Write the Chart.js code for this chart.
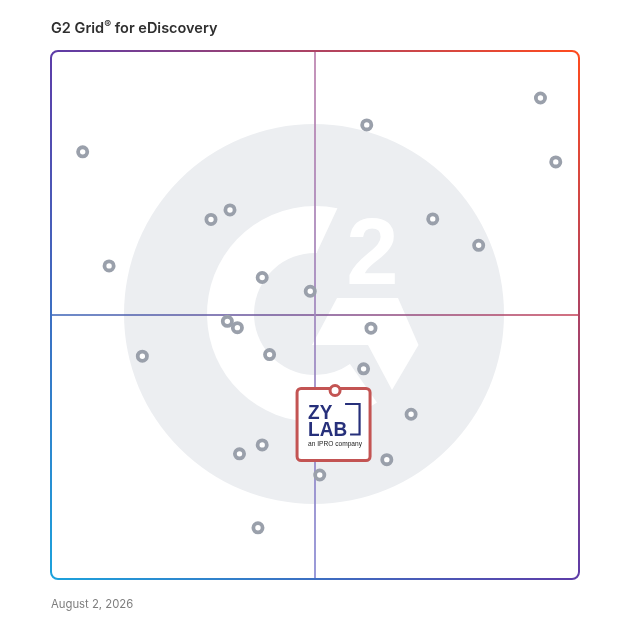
<!DOCTYPE html>
<html><head><meta charset="utf-8">
<script src="https://cdn.jsdelivr.net/npm/chart.js@4.4.1/dist/chart.umd.min.js"></script>
<style>
html,body{margin:0;padding:0;background:#fff;}
#wrap{position:relative;width:628px;height:628px;overflow:hidden;}
canvas{position:absolute;left:0;top:0;}
#title{position:absolute;left:51px;top:19px;font:600 14.5px Inter,"Noto Sans",sans-serif;color:#2f2f2f;white-space:nowrap;}
#title sup{font-size:0.72em;vertical-align:0.45em;line-height:0;}
#date{position:absolute;left:51px;top:597px;font:400 11.3px Inter,"Noto Sans",sans-serif;color:#7e7e7e;white-space:nowrap;}
</style></head><body>
<div id="wrap">
<canvas id="c" width="628" height="628"></canvas>
<div id="title">G2 Grid<sup>®</sup> for eDiscovery</div>
<div id="date">August 2, 2026</div>
</div>
<script>
const satisfaction   = [6.0, 11.0, 17.3, 30.3, 33.9, 40.0, 49.1, 33.4, 35.3, 41.4, 59.8, 92.7, 95.6, 72.3, 81.0, 60.6, 59.2, 68.2, 63.6, 50.9, 40.0, 35.7, 39.2];
const marketPresence = [80.9, 59.3, 42.2, 68.1, 69.9, 57.1, 54.5, 48.8, 47.6, 42.5, 86.0, 91.1, 79.0, 68.2, 63.2, 47.5, 39.8, 31.2, 22.6, 19.7, 25.4, 23.7, 9.7];
const highlightName = ['ZyLAB'];
const highlightSatisfaction = [53.8];
const highlightPresence = [35.7];
const axisRange = [0, 100];
const quadrantSplit = [50];

const otherPoints = satisfaction.map((x, i) => ({x: x, y: marketPresence[i]}));
const highlightPoints = highlightSatisfaction.map((x, i) => ({x: x, y: highlightPresence[i]}));

function rr(ctx, x, y, w, h, r){
  ctx.beginPath();
  ctx.moveTo(x + r, y);
  ctx.lineTo(x + w - r, y);
  ctx.arcTo(x + w, y, x + w, y + r, r);
  ctx.lineTo(x + w, y + h - r);
  ctx.arcTo(x + w, y + h, x + w - r, y + h, r);
  ctx.lineTo(x + r, y + h);
  ctx.arcTo(x, y + h, x, y + h - r, r);
  ctx.lineTo(x, y + r);
  ctx.arcTo(x, y, x + r, y, r);
  ctx.closePath();
}

const gridPlugin = {
  id: 'g2grid',
  beforeDatasetsDraw(chart){
    const {ctx, chartArea: a, scales} = chart;
    const s = (a.right - a.left) / 528;
    const cx = scales.x.getPixelForValue(quadrantSplit[0]);
    const cy = scales.y.getPixelForValue(quadrantSplit[0]);
    const d = Math.PI / 180;
    ctx.save();
    // watermark
    ctx.fillStyle = '#eceef1';
    ctx.beginPath(); ctx.arc(cx - 1, cy - 1, 190 * s, 0, 2 * Math.PI); ctx.fill();
    ctx.fillStyle = '#ffffff';
    const R = 108 * s, r = 61 * s, oy = cy - 1;
    ctx.beginPath();
    ctx.arc(cx, oy, R, 55 * d, 282 * d);
    ctx.lineTo(cx + 2 * s, oy - 62 * s);
    ctx.arc(cx, oy, r, 272 * d, 55 * d, true);
    ctx.closePath(); ctx.fill();
    // chevron
    const P = (px, py) => [cx + (px - 315) * s, cy + (py - 315) * s];
    const poly = [P(337, 298), P(398, 298), P(418.5, 345), P(392, 390), P(368, 345), P(312, 345)];
    ctx.beginPath();
    poly.forEach((p, i) => i ? ctx.lineTo(p[0], p[1]) : ctx.moveTo(p[0], p[1]));
    ctx.closePath(); ctx.fill();
    // the "2"
    ctx.font = 'bold ' + (94 * s) + 'px "Liberation Sans", Arial, sans-serif';
    ctx.textAlign = 'center'; ctx.textBaseline = 'alphabetic';
    const t = P(372.5, 283.5);
    ctx.fillText('2', t[0], t[1]);

    // quadrant lines
    ctx.lineWidth = 1.7;
    let g = ctx.createLinearGradient(a.left, 0, a.right, 0);
    g.addColorStop(0, '#3863b8'); g.addColorStop(0.5, '#7a4f92'); g.addColorStop(1, '#c43f55');
    ctx.strokeStyle = g;
    ctx.beginPath(); ctx.moveTo(a.left, cy); ctx.lineTo(a.right, cy); ctx.stroke();
    g = ctx.createLinearGradient(0, a.top, 0, a.bottom);
    g.addColorStop(0, '#bb80ad'); g.addColorStop(0.5, '#9f86bd'); g.addColorStop(1, '#8788d2');
    ctx.strokeStyle = g;
    ctx.beginPath(); ctx.moveTo(cx, a.top); ctx.lineTo(cx, a.bottom); ctx.stroke();

    // border
    g = ctx.createLinearGradient(a.left, a.bottom, a.right, a.top);
    g.addColorStop(0, '#1ca2dc'); g.addColorStop(0.5, '#5d3ca8'); g.addColorStop(1, '#ff4b1e');
    ctx.strokeStyle = g; ctx.lineWidth = 2;
    rr(ctx, a.left, a.top, a.right - a.left, a.bottom - a.top, 7 * s);
    ctx.stroke();
    ctx.restore();
  },
  beforeDatasetDraw(chart, args){
    if (args.index !== 1) return;
    const {ctx} = chart;
    const meta = chart.getDatasetMeta(1);
    meta.data.forEach(pt => {
      const x = pt.x, y = pt.y;
      ctx.save();
      ctx.fillStyle = '#ffffff';
      ctx.strokeStyle = '#c35453';
      ctx.lineWidth = 3;
      rr(ctx, x - 38, y - 2, 73, 72, 4);
      ctx.fill(); ctx.stroke();
      // logo
      ctx.fillStyle = '#27307b';
      ctx.font = 'bold 20px "Liberation Sans", Arial, sans-serif';
      ctx.textAlign = 'left'; ctx.textBaseline = 'alphabetic';
      ctx.save();
      ctx.translate(x - 27, y + 28);
      ctx.scale(0.95, 1);
      ctx.fillText('ZY', 0, 0);
      ctx.fillText('LAB', 0, 17);
      ctx.restore();
      ctx.strokeStyle = '#27307b'; ctx.lineWidth = 2.2;
      ctx.beginPath();
      ctx.moveTo(x + 10, y + 13.5); ctx.lineTo(x + 24.5, y + 13.5);
      ctx.lineTo(x + 24.5, y + 44); ctx.lineTo(x + 15, y + 44);
      ctx.stroke();
      ctx.fillStyle = '#222';
      ctx.font = '6.6px "Liberation Sans", Arial, sans-serif';
      ctx.fillText('an IPRO company', x - 27, y + 55);
      ctx.restore();
    });
  }
};

new Chart(document.getElementById('c'), {
  type: 'scatter',
  data: {
    datasets: [
      {
        label: 'Products',
        data: otherPoints,
        pointRadius: 4.6,
        pointHoverRadius: 4.6,
        pointBorderWidth: 3.8,
        pointBorderColor: '#9aa0ab',
        pointBackgroundColor: '#ffffff',
        order: 1
      },
      {
        label: highlightName[0],
        data: highlightPoints,
        pointRadius: 5,
        pointHoverRadius: 5,
        pointBorderWidth: 3,
        pointBorderColor: '#c35453',
        pointBackgroundColor: '#ffffff',
        order: -1
      }
    ]
  },
  options: {
    responsive: false,
    animation: false,
    layout: {padding: {left: 51, top: 51, right: 49, bottom: 49}},
    scales: {
      x: {type: 'linear', min: axisRange[0], max: axisRange[1], display: false},
      y: {type: 'linear', min: axisRange[0], max: axisRange[1], display: false}
    },
    plugins: {legend: {display: false}, tooltip: {enabled: false}, title: {display: false}}
  },
  plugins: [gridPlugin]
});
</script>
</body></html>
